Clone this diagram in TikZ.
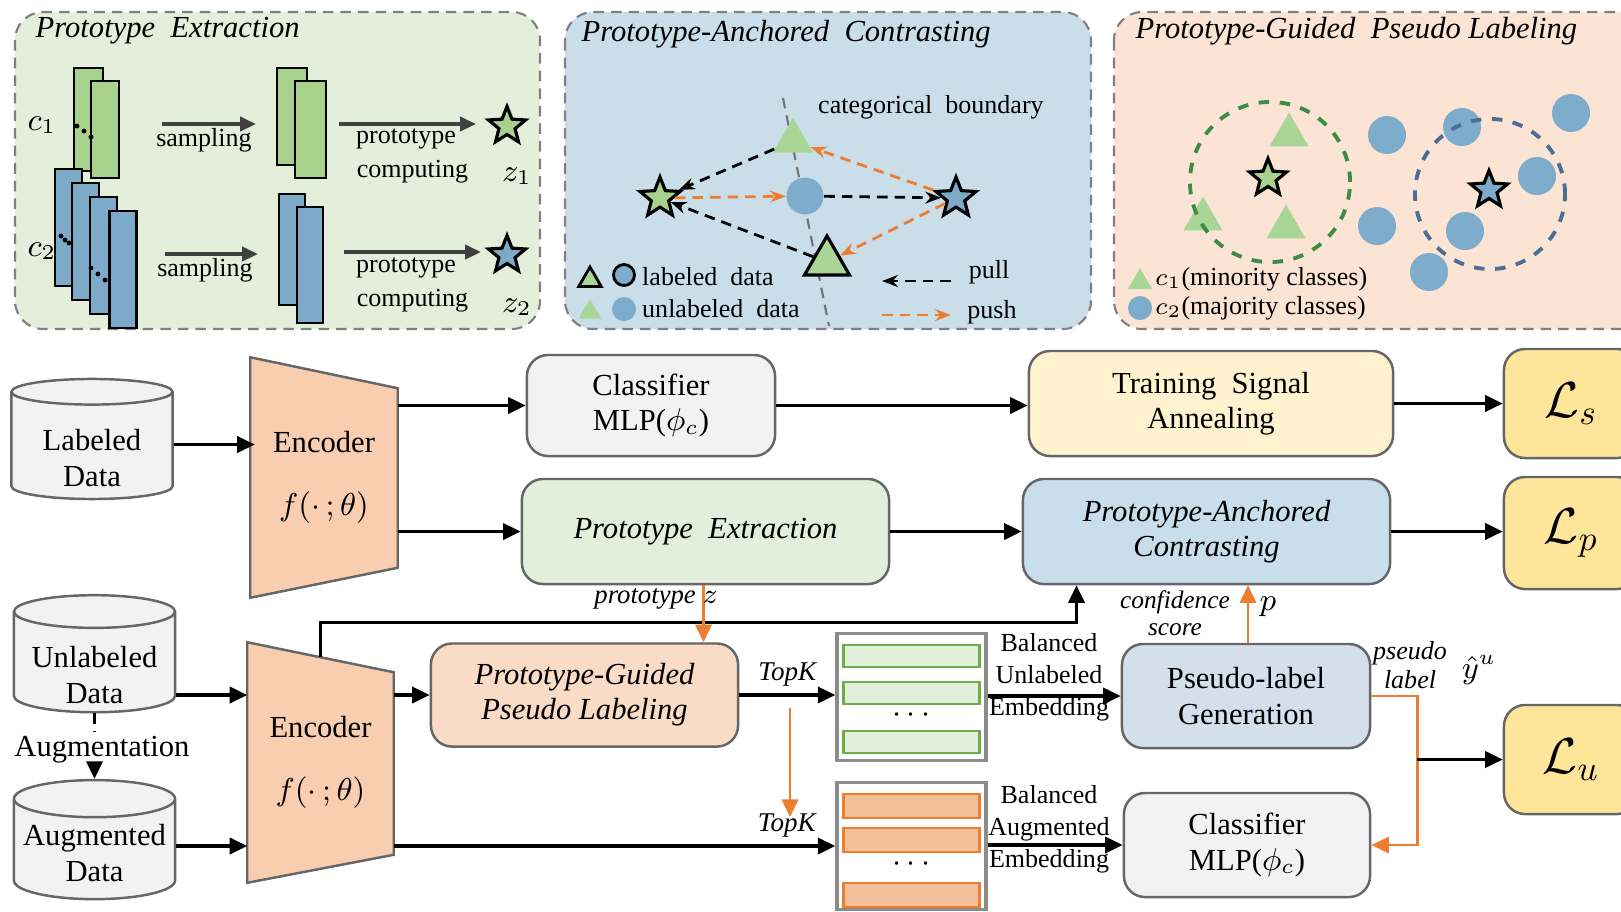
\documentclass[tikz,border=0pt]{standalone}
\usepackage{fontspec}
\setmainfont{Liberation Serif}
\usetikzlibrary{arrows.meta,positioning,calc,shapes.geometric,backgrounds}

\definecolor{orng}{RGB}{237,125,49}
\definecolor{encpeach}{RGB}{248,205,176}
\definecolor{pgpeach}{RGB}{250,220,198}
\definecolor{pnlgreen}{RGB}{227,239,219}
\definecolor{pnlblue}{RGB}{202,222,234}
\definecolor{pnlpeach}{RGB}{251,228,212}
\definecolor{mapgreen}{RGB}{169,209,142}
\definecolor{mapblue}{RGB}{126,170,201}
\definecolor{trigreen}{RGB}{169,214,150}
\definecolor{dotblue}{RGB}{125,172,204}
\definecolor{clsgray}{RGB}{242,242,242}
\definecolor{tsayellow}{RGB}{255,242,206}
\definecolor{lossgold}{RGB}{255,229,153}
\definecolor{pegreen}{RGB}{226,239,218}
\definecolor{pacblue}{RGB}{200,222,235}
\definecolor{plgblue}{RGB}{211,224,235}
\definecolor{barorng}{RGB}{244,192,156}
\definecolor{bargreen}{RGB}{112,173,71}
\definecolor{circgreen}{RGB}{60,140,70}
\definecolor{circblue}{RGB}{75,110,150}

\begin{document}
\begin{tikzpicture}[x=0.01cm,y=-0.01cm,font=\fontsize{8.7}{10}\selectfont,
  blk/.style={draw=black!60,line width=0.7pt,rounded corners=6pt,align=center,inner sep=0pt},
  itblk/.style={blk,font=\fontsize{8.7}{10}\selectfont\itshape},
  lossbox/.style={blk,fill=lossgold,minimum width=1.34cm,font=\fontsize{14.5}{18}\selectfont},
  dbase/.style={cylinder,shape border rotate=90,aspect=0.26,draw=black!60,line width=0.7pt,fill=clsgray,align=center,inner sep=0pt},
  dtxt/.style={align=center,inner sep=0pt},
  enc/.style={align=center,inner sep=0pt},
  encshape/.style={draw=black!60,line width=0.7pt,fill=encpeach},
  arr/.style={line width=0.9pt,-{Triangle[length=5pt,width=4.6pt]}},
  oarr/.style={arr,draw=orng,line width=0.8pt},
  sml/.style={font=\fontsize{7.4}{9.1}\selectfont,align=center,inner sep=1pt},
  ism/.style={font=\fontsize{7.4}{8.4}\selectfont\itshape,align=center,inner sep=1pt},
  ttl/.style={font=\fontsize{8.7}{10}\selectfont\itshape,anchor=west,inner sep=0pt},
  panel/.style={draw=black!50,densely dashed,line width=0.6pt,rounded corners=8pt},
  fmapg/.style={draw,line width=0.8pt,fill=mapgreen,inner sep=0pt},
  fmapb/.style={draw,line width=0.8pt,fill=mapblue,inner sep=0pt},
  pstar/.style={star,star points=5,star point ratio=2.3,draw,line width=0.9pt,minimum size=0.39cm,inner sep=0pt},
  tri/.style={regular polygon,regular polygon sides=3,fill=trigreen,inner sep=0pt},
  bdot/.style={circle,fill=dotblue,inner sep=0pt,minimum size=0.38cm},
  parr/.style={line width=1pt,draw=black!75,-{Triangle[length=4.5pt,width=4pt]}},
  pullarr/.style={densely dashed,line width=0.8pt,-{Stealth[length=4.5pt]}},
  pusharr/.style={pullarr,draw=orng},
  ubar/.style={draw=bargreen,fill=pegreen,line width=0.8pt,minimum width=1.36cm,minimum height=0.22cm,inner sep=0pt},
  obar/.style={draw=orng,fill=barorng,line width=0.8pt,minimum width=1.36cm,minimum height=0.24cm,inner sep=0pt},
  emb/.style={draw=black!45,line width=0.9pt,fill=white,minimum width=1.49cm,minimum height=1.27cm,inner sep=0pt}]
\useasboundingbox (0,0) rectangle (1621,911);

% top panels
\draw[panel,fill=pnlgreen] (15,12) rectangle (540,329);
\draw[panel,fill=pnlblue] (565,12) rectangle (1091,329);
\draw[panel,fill=pnlpeach] (1114,12) rectangle (1660,329);
\node[ttl] (ttlA) at (35,31) {Prototype\ \ Extraction};
\node[ttl] (ttlB) at (581,34) {Prototype-Anchored\ \ Contrasting};
\node[ttl] (ttlC) at (1135,31) {Prototype-Guided\ \ Pseudo Labeling};

% prototype extraction
\node (c1) at (42,125) {$c_1$};
\node (c2) at (42,251) {$c_2$};
\node[fmapg,minimum width=0.29cm,minimum height=1.03cm] (g1) at (88.5,119.5) {};
\node[fmapg,minimum width=0.28cm,minimum height=0.97cm] (g2) at (105,129.5) {};
\foreach \p in {(77,126),(84,131),(91,137)} \fill \p circle (0.7pt);
\node[fmapb,minimum width=0.27cm,minimum height=1.17cm] (b1) at (68.5,227.5) {};
\node[fmapb,minimum width=0.27cm,minimum height=1.17cm] (b2) at (85.5,241.5) {};
\node[fmapb,minimum width=0.27cm,minimum height=1.17cm] (b3) at (103.5,255.5) {};
\node[fmapb,minimum width=0.27cm,minimum height=1.17cm] (b4) at (123,269.5) {};
\foreach \p in {(61,236),(65,240),(69,243),(91,268),(98,274),(105,280)} \fill \p circle (0.7pt);
\node[fmapg,minimum width=0.30cm,minimum height=0.97cm] (g3) at (292,116.5) {};
\node[fmapg,minimum width=0.31cm,minimum height=0.97cm] (g4) at (310.5,129.5) {};
\node[fmapb,minimum width=0.26cm,minimum height=1.11cm] (b5) at (292,249.5) {};
\node[fmapb,minimum width=0.26cm,minimum height=1.16cm] (b6) at (310,265) {};
\coordinate (sa1) at (162,124);
\coordinate (sa2) at (256,124);
\coordinate (sb1) at (165,254);
\coordinate (sb2) at (258,254);
\coordinate (pa1) at (339,124);
\coordinate (pa2) at (476,124);
\coordinate (pb1) at (344,252);
\coordinate (pb2) at (481,252);
\draw[parr] (sa1) -- (sa2);
\draw[parr] (sb1) -- (sb2);
\draw[parr] (pa1) -- (pa2);
\draw[parr] (pb1) -- (pb2);
\node[sml] (smpA) at (204,140) {sampling};
\node[sml] (smpB) at (205,270) {sampling};
\node[sml,font=\fontsize{7.4}{9.8}\selectfont] (pcA) at (406,156) {prototype\\\ \ computing};
\node[sml,font=\fontsize{7.4}{9.8}\selectfont] (pcB) at (406,285) {prototype\\\ \ computing};
\node[pstar,fill=mapgreen] (zs1) at (507,126) {};
\node[pstar,fill=mapblue] (zs2) at (507,255) {};
\node (z1) at (517,176) {$z_1$};
\node (z2) at (517,307) {$z_2$};

% prototype-anchored contrasting
\coordinate (bd1) at (783,98);
\coordinate (bd2) at (829,326);
\draw[black!55,densely dashed,line width=0.6pt] (bd1) -- (bd2);
\node[sml,anchor=west] (cbd) at (814,107) {categorical\ \ boundary};
\node[pstar,fill=mapgreen,minimum size=0.42cm] (ps1) at (660,198) {};
\node[pstar,fill=mapblue,minimum size=0.42cm] (ps2) at (956,198) {};
\node[tri,minimum size=0.46cm] (ut) at (793,141) {};
\node[circle,fill=dotblue,inner sep=0pt,minimum size=0.37cm] (uc) at (805,196) {};
\node[tri,draw,line width=0.9pt,minimum size=0.52cm] (lt) at (827,262) {};
\draw[pullarr] (ut) -- (ps1);
\draw[pullarr] (lt) -- (ps1);
\draw[pullarr] (uc) -- (ps2);
\draw[pusharr] (ps1) -- (uc);
\draw[pusharr] (ps2) -- (ut);
\draw[pusharr] (ps2) -- (lt);
\node[tri,draw,line width=0.8pt,minimum size=0.26cm] (lg1) at (590,280) {};
\node[circle,draw,line width=0.8pt,fill=dotblue,inner sep=0pt,minimum size=0.21cm] (lg2) at (624,275) {};
\node[sml,anchor=west] (lg3) at (638,277) {labeled\ \ data};
\node[tri,minimum size=0.26cm] (lg4) at (590,312) {};
\node[circle,fill=dotblue,inner sep=0pt,minimum size=0.24cm] (lg5) at (624,309) {};
\node[sml,anchor=west] (lg6) at (638,309) {unlabeled\ \ data};
\coordinate (pl1) at (951,281);
\coordinate (pl2) at (882,281);
\coordinate (ph1) at (882,315);
\coordinate (ph2) at (951,315);
\draw[pullarr] (pl1) -- (pl2);
\draw[pusharr] (ph1) -- (ph2);
\node[sml] (pll) at (989,272) {pull};
\node[sml] (phl) at (992,312) {push};

% prototype-guided pseudo labeling
\node[tri,minimum size=0.45cm] (gt1) at (1289,135) {};
\node[tri,minimum size=0.45cm] (gt2) at (1203,219) {};
\node[tri,minimum size=0.45cm] (gt3) at (1286,227) {};
\foreach \p [count=\i] in {(1387,135),(1462,127),(1571,113),(1537,176),(1377,226),(1465,231),(1429,272)}
  \node[bdot] (bd\i) at \p {};
\node[circle,draw=circgreen,dashed,line width=1.1pt,minimum size=1.6cm] (gcir) at (1270,182) {};
\node[circle,draw=circblue,dashed,line width=1.1pt,minimum size=1.5cm] (bcir) at (1490,194) {};
\node[pstar,fill=mapgreen] (gs) at (1268,178) {};
\node[pstar,fill=mapblue] (bs) at (1489,190) {};
\node[tri,minimum size=0.28cm] (lg7) at (1140,282) {};
\node[sml,anchor=west] (lg8) at (1151,279) {$c_1$(minority classes)};
\node[circle,fill=dotblue,inner sep=0pt,minimum size=0.24cm] (lg9) at (1140,308) {};
\node[sml,anchor=west] (lg10) at (1151,308) {$c_2$(majority classes)};

% labeled branch
\node[dbase,minimum width=1.61cm,minimum height=1.20cm] (lab) at (92,446) {\phantom{Labeled}\\\phantom{Data}};
\node[dtxt] (labt) at (92,458) {Labeled\\Data};
\node[enc,minimum width=1.46cm,minimum height=2.39cm] (enc1) at (324,477.5) {Encoder\\[8pt]$f(\cdot\,;\theta)$};
\node[blk,fill=clsgray,minimum width=2.48cm,minimum height=1.01cm] (cls1) at (651,405.5) {Classifier\\MLP($\phi_c$)};
\node[blk,fill=tsayellow,minimum width=3.64cm,minimum height=1.05cm] (tsa) at (1211,403.5) {Training\ \ Signal\\Annealing};
\node[lossbox,minimum height=1.09cm] (ls) at (1571,403.5) {$\mathcal{L}_s$};
\node[itblk,fill=pegreen,minimum width=3.67cm,minimum height=1.05cm] (pe) at (705.5,531.5) {Prototype\ \ Extraction};
\node[itblk,fill=pacblue,minimum width=3.67cm,minimum height=1.05cm] (pac) at (1206.5,531.5) {Prototype-Anchored\\Contrasting};
\node[lossbox,minimum height=1.12cm] (lp) at (1571,533) {$\mathcal{L}_p$};

% unlabeled branch
\node[dbase,minimum width=1.61cm,minimum height=1.17cm] (unl) at (94.5,662.5) {\phantom{Unlabeled}\\\phantom{Data}};
\node[dtxt] (unlt) at (94.5,675) {Unlabeled\\Data};
\node[inner sep=1pt] (augt) at (102,750) {Augmentation};
\node[dbase,minimum width=1.61cm,minimum height=1.19cm] (aug) at (94.5,849.5) {\phantom{Augmented}\\\phantom{Data}};
\node[dtxt] (augd) at (94.5,853) {Augmented\\Data};
\node[enc,minimum width=1.45cm,minimum height=2.39cm] (enc2) at (320.5,762.5) {Encoder\\[8pt]$f(\cdot\,;\theta)$};
\node[itblk,fill=pgpeach,minimum width=3.07cm,minimum height=1.03cm] (pgpl) at (584.5,695) {Prototype-Guided\\Pseudo Labeling};
\node[emb] (bu) at (911.5,697) {};
\node[ubar] (bu1) at ($(bu)+(0,-41)$) {};
\node[ubar] (bu2) at ($(bu)+(0,-4)$) {};
\node[inner sep=0pt] (bu3) at ($(bu)+(0,18)$) {$\cdots$};
\node[ubar] (bu4) at ($(bu)+(0,45)$) {};
\node[emb] (ba) at (911.5,846) {};
\node[obar] (ba1) at ($(ba)+(0,-40)$) {};
\node[obar] (ba2) at ($(ba)+(0,-6)$) {};
\node[inner sep=0pt] (ba3) at ($(ba)+(0,18)$) {$\cdots$};
\node[obar] (ba4) at ($(ba)+(0,49)$) {};
\node[blk,fill=plgblue,minimum width=2.48cm,minimum height=1.04cm] (plg) at (1246,696) {Pseudo-label\\Generation};
\node[blk,fill=clsgray,minimum width=2.46cm,minimum height=1.04cm] (cls2) at (1247,845) {Classifier\\MLP($\phi_c$)};
\node[lossbox,minimum height=1.09cm] (lu) at (1571,759.5) {$\mathcal{L}_u$};

\begin{scope}[on background layer]
\draw[encshape] (enc1.north west) -- ($(enc1.north east)+(0,31)$) -- ($(enc1.south east)+(0,-30)$) -- (enc1.south west) -- cycle;
\draw[encshape] (enc2.north west) -- ($(enc2.north east)+(0,30)$) -- ($(enc2.south east)+(0,-28)$) -- (enc2.south west) -- cycle;
\end{scope}

% connectors
\draw[arr] (lab.east |- enc1.west) ++(0,-33) -- ++(81,0);
\draw[arr] (enc1.east |- cls1.west) -- (cls1.west);
\draw[arr] (cls1.east) -- (cls1.east -| tsa.west);
\draw[arr] (tsa.east) -- (tsa.east -| ls.west);
\draw[arr] (enc1.east |- pe.west) -- (pe.west);
\draw[arr] (pe.east) -- (pac.west);
\draw[arr] (pac.east) -- (pac.east -| lp.west);
\draw[densely dashed,line width=0.9pt] (unl.south) -- (unl.south |- augt.north);
\draw[arr] (unl.south |- augt.south) -- (aug.north);
\draw[arr] (unl.east |- pgpl.west) -- (enc2.west |- pgpl.west);
\draw[arr] (aug.east |- ba.west) -- (enc2.west |- ba.west);
\draw[arr] (enc2.east |- pgpl.west) -- (pgpl.west);
\draw[arr] (pgpl.east) -- node[ism,font=\fontsize{7.7}{8}\selectfont\itshape,above=1pt] (tk1) {TopK} (pgpl.east -| bu.west);
\draw[arr] (enc2.east |- ba.west) -- node[ism,font=\fontsize{7.7}{8}\selectfont\itshape,pos=0.89,above=1pt] (tk2) {TopK} (ba.west);
\node[sml] (bue) at (1049,677) {Balanced\\Unlabeled\\Embedding};
\node[sml] (bae) at (1049,829) {Balanced\\Augmented\\Embedding};
\draw[arr] (bu.east |- plg.west) -- (plg.west);
\draw[arr] (ba.east |- cls2.west) -- (cls2.west);
\draw[arr] ($(enc2.north)+(0,15)$) |- ($(pac.south)+(-130,37)$) -- ($(pac.south)+(-130,0)$);
\coordinate (pzc) at ($(pe.south)+(-2,0)$);
\draw[oarr] (pzc) -- (pzc |- pgpl.north);
\node[ism,font=\fontsize{7.6}{8}\selectfont\itshape] (ptz) at (656,599) {prototype\ $z$};
\coordinate (tkA) at (790,708);
\coordinate (tkB) at (790,817);
\draw[oarr] (tkA) -- (tkB);
\coordinate (cfc) at ($(plg.north)+(2,0)$);
\draw[oarr] (cfc) -- (cfc |- pac.south);
\node[ism,font=\fontsize{7.2}{7.8}\selectfont\itshape] (cfs) at (1175,613) {confidence\\score};
\node[inner sep=0pt] (pp) at (1268,607) {$p$};
\draw[oarr] (plg.east) -- ++(46,0) coordinate (jn) |- (cls2.east);
\draw[arr] (jn |- lu.west) -- (lu.west);
\node[ism,inner sep=0pt] (psl) at (1410,665) {pseudo\\label};
\node[inner sep=0pt] (yh) at (1479,670) {$\hat{y}^{u}$};
\end{tikzpicture}
\end{document}
